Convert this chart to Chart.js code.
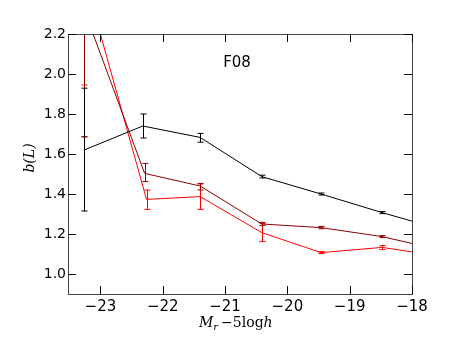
<!DOCTYPE html>
<html lang="en">
<head>
  <meta charset="UTF-8">
  <title>b(L) vs Mr</title>
  <script src="https://cdn.jsdelivr.net/npm/chart.js"></script>
  <style>
    html, body { margin: 0; padding: 0; background: #fff; }
    canvas { display: block; }
  </style>
</head>
<body>
  <canvas id="chart" width="458" height="343"></canvas>

  <script>
    // ticks
    const xTicks = [-23, -22, -21, -20, -19, -18];
    const yTicks = [1.0, 1.2, 1.4, 1.6, 1.8, 2.0, 2.2];

    // black series
    const blackX = [-23.26, -22.32, -21.40, -20.41, -19.46, -18.48, -17.5];
    const blackY = [1.62, 1.74, 1.683, 1.487, 1.400, 1.307, 1.22];
    const blackLo = [1.315, 1.68, 1.659, 1.480, 1.395, 1.302, 1.215];
    const blackHi = [1.929, 1.80, 1.703, 1.494, 1.405, 1.312, 1.225];

    // dark red series
    const darkX = [-23.26, -22.29, -21.40, -20.41, -19.46, -18.48, -17.5];
    const darkY = [2.32, 1.503, 1.44, 1.25, 1.232, 1.187, 1.117];
    const darkLo = [1.686, 1.462, 1.42, 1.243, 1.226, 1.182, 1.11];
    const darkHi = [2.95, 1.553, 1.453, 1.257, 1.238, 1.192, 1.12];

    // red series
    const redX = [-23.26, -22.26, -21.40, -20.41, -19.46, -18.48, -17.5];
    const redY = [2.49, 1.373, 1.387, 1.207, 1.107, 1.133, 1.087];
    const redLo = [1.686, 1.323, 1.323, 1.162, 1.102, 1.122, 1.08];
    const redHi = [1.945, 1.42, 1.45, 1.253, 1.112, 1.142, 1.095];

    const toPts = (xs, ys) => xs.map((x, i) => ({ x: x, y: ys[i] }));
    const minus = v => String(v).replace('-', '\u2212');

    // error bars, frame with inward ticks, annotation and axis titles
    const extras = {
      id: 'extras',
      afterDatasetsDraw(chart) {
        const ctx = chart.ctx, a = chart.chartArea;
        const xs = chart.scales.x, ys = chart.scales.y;
        ctx.save();
        ctx.beginPath();
        ctx.rect(a.left, a.top, a.right - a.left, a.bottom - a.top);
        ctx.clip();
        chart.data.datasets.slice().reverse().forEach(ds => {
          ctx.strokeStyle = ds.borderColor;
          ctx.lineWidth = 1;
          ds.data.forEach((p, i) => {
            const px = Math.round(xs.getPixelForValue(p.x)) + 0.5;
            const y1 = ys.getPixelForValue(ds.lo[i]);
            const y2 = ys.getPixelForValue(ds.hi[i]);
            ctx.beginPath();
            ctx.moveTo(px, y1); ctx.lineTo(px, y2);
            ctx.moveTo(px - 3, y1); ctx.lineTo(px + 3, y1);
            ctx.moveTo(px - 3, y2); ctx.lineTo(px + 3, y2);
            ctx.stroke();
          });
        });
        ctx.restore();
      },
      afterDraw(chart) {
        const ctx = chart.ctx, a = chart.chartArea;
        const xs = chart.scales.x, ys = chart.scales.y;
        ctx.save();
        ctx.strokeStyle = '#444';
        ctx.lineWidth = 1;
        ctx.strokeRect(Math.round(a.left) + 0.5, Math.round(a.top) + 0.5,
          Math.round(a.right - a.left), Math.round(a.bottom - a.top));
        ctx.strokeStyle = '#000';
        ctx.beginPath();
        xTicks.forEach(v => {
          const px = Math.round(xs.getPixelForValue(v)) + 0.5;
          ctx.moveTo(px, a.bottom); ctx.lineTo(px, a.bottom - 8);
          ctx.moveTo(px, a.top); ctx.lineTo(px, a.top + 8);
        });
        yTicks.forEach(v => {
          const py = Math.round(ys.getPixelForValue(v)) + 0.5;
          ctx.moveTo(a.left, py); ctx.lineTo(a.left + 8, py);
          ctx.moveTo(a.right, py); ctx.lineTo(a.right - 8, py);
        });
        ctx.stroke();

        ctx.fillStyle = '#000';
        ctx.textAlign = 'center';
        ctx.textBaseline = 'middle';
        ctx.font = '15px "DejaVu Sans"';
        ctx.fillText('F08', 237, 63);

        // x title: M_r -5logh
        ctx.textBaseline = 'alphabetic';
        ctx.textAlign = 'left';
        const base = 327;
        let x = 199;
        ctx.font = 'italic 14px "DejaVu Serif"';
        ctx.fillText('M', x, base); x += ctx.measureText('M').width;
        ctx.font = 'italic 10px "DejaVu Serif"';
        ctx.fillText('r', x, base + 3); x += ctx.measureText('r').width + 3;
        ctx.font = '14px "DejaVu Serif"';
        ctx.fillText('\u22125log', x, base); x += ctx.measureText('\u22125log').width;
        ctx.font = 'italic 14px "DejaVu Serif"';
        ctx.fillText('h', x, base);

        // y title: b(L)
        ctx.translate(30, 158);
        ctx.rotate(-Math.PI / 2);
        ctx.textAlign = 'center';
        ctx.textBaseline = 'middle';
        ctx.font = 'italic 14px "DejaVu Serif"';
        ctx.fillText('b(L)', 0, 0);
        ctx.restore();
      }
    };

    new Chart(document.getElementById('chart'), {
      type: 'scatter',
      data: {
        datasets: [
          { data: toPts(blackX, blackY), lo: blackLo, hi: blackHi, borderColor: '#000000' },
          { data: toPts(darkX, darkY), lo: darkLo, hi: darkHi, borderColor: '#8b0000' },
          { data: toPts(redX, redY), lo: redLo, hi: redHi, borderColor: '#ff0000' }
        ].map(d => Object.assign(d, { showLine: true, pointRadius: 0, borderWidth: 1, fill: false }))
      },
      options: {
        responsive: false,
        animation: false,
        events: [],
        layout: { padding: { top: 34, right: 46, left: 0, bottom: 0 } },
        plugins: { legend: { display: false }, tooltip: { enabled: false } },
        scales: {
          x: {
            type: 'linear',
            min: -23.52,
            max: -18,
            afterBuildTicks: s => { s.ticks = xTicks.map(v => ({ value: v })); },
            afterFit: s => { s.height = 49; },
            grid: { display: false, drawTicks: false },
            border: { display: false },
            ticks: {
              padding: 4,
              maxRotation: 0,
              autoSkip: false,
              color: '#000',
              font: { family: 'DejaVu Sans', size: 15 },
              callback: v => minus(v)
            }
          },
          y: {
            type: 'linear',
            min: 0.9,
            max: 2.2,
            afterBuildTicks: s => { s.ticks = yTicks.map(v => ({ value: v })); },
            afterFit: s => { s.width = 68; },
            grid: { display: false, drawTicks: false },
            border: { display: false },
            ticks: {
              padding: 2,
              autoSkip: false,
              color: '#000',
              font: { family: 'DejaVu Sans', size: 14 },
              callback: v => v.toFixed(1)
            }
          }
        }
      },
      plugins: [extras]
    });
  </script>
</body>
</html>
